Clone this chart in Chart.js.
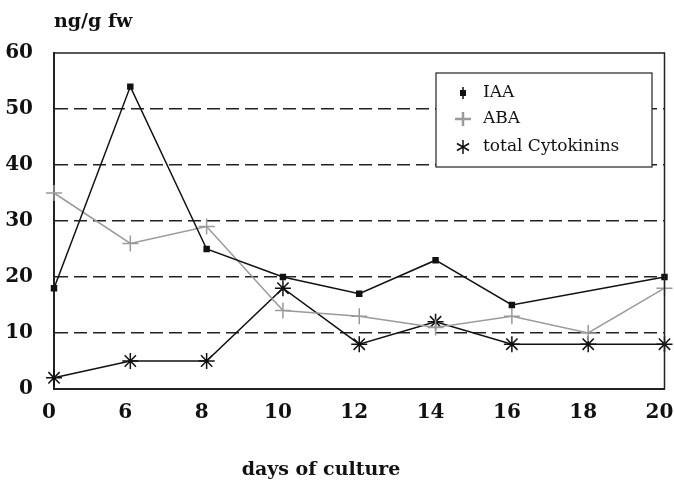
<html>
  <head>
    <script src="https://cdn.jsdelivr.net/npm/chart.js@4/dist/chart.umd.min.js"></script>
    <style>
      body {
        margin: 0;
        background-color: #ffffff;
      }
    </style>
    <title>Hormone levels</title>
  </head>
  <body>
    <canvas id="canvas" width="674" height="480"></canvas>
    <script type="text/javascript">

      // days of culture and hormone levels (ng/g fw)
      var days = ["0", "6", "8", "10", "12", "14", "16", "18", "20"];
      var iaa = [18, 54, 25, 20, 17, 23, 15, null, 20];
      var aba = [35, 26, 29, 14, 13, 11, 13, 10, 18];
      var cytokinins = [2, 5, 5, 18, 8, 12, 8, 8, 8];
      var yTicks = [0, 10, 20, 30, 40, 50, 60];

      var serif = '"DejaVu Serif", "Liberation Serif", serif';

      // frame, axis captions and the boxed legend inside the plot
      var extras = {
        id: "extras",
        afterDraw: function(chart){
          var ctx = chart.ctx;
          var a = chart.chartArea;
          ctx.save();

          ctx.strokeStyle = "#222";
          ctx.lineWidth = 1.5;
          ctx.beginPath();
          ctx.moveTo(a.left, a.top);
          ctx.lineTo(a.right, a.top);
          ctx.lineTo(a.right, a.bottom);
          ctx.stroke();

          ctx.fillStyle = "#111";
          ctx.font = "bold 19px " + serif;
          ctx.textBaseline = "middle";
          ctx.textAlign = "left";
          ctx.fillText("ng/g fw", a.left, 22);

          ctx.textAlign = "center";
          ctx.fillText("days of culture", 321, 470);

          // legend box
          var bx = a.left + 382, by = a.top + 20, bw = 216, bh = 94;
          ctx.fillStyle = "#fff";
          ctx.fillRect(bx, by, bw, bh);
          ctx.lineWidth = 1.2;
          ctx.strokeStyle = "#222";
          ctx.strokeRect(bx, by, bw, bh);

          var rows = [20, 46, 74];
          ctx.textAlign = "left";
          chart.data.datasets.forEach(function(ds, i){
            var mx = bx + 27, my = by + rows[i];
            ctx.strokeStyle = ds.borderColor;
            ctx.fillStyle = ds.borderColor;
            ctx.lineWidth = 1.5;
            ctx.beginPath();
            if(ds.pointStyle === "rect"){
              ctx.moveTo(mx, my - 6);
              ctx.lineTo(mx, my + 6);
              ctx.stroke();
              ctx.fillRect(mx - 3, my - 3, 6, 6);
            } else if(ds.pointStyle === "cross"){
              ctx.lineWidth = 2.5;
              ctx.moveTo(mx - 8, my);
              ctx.lineTo(mx + 8, my);
              ctx.moveTo(mx, my - 7);
              ctx.lineTo(mx, my + 7);
              ctx.stroke();
            } else {
              for(var k = 0; k < 3; k++){
                var ang = Math.PI / 2 + k * Math.PI / 3;
                ctx.moveTo(mx - 7 * Math.cos(ang), my - 7 * Math.sin(ang));
                ctx.lineTo(mx + 7 * Math.cos(ang), my + 7 * Math.sin(ang));
              }
              ctx.stroke();
            }
            ctx.fillStyle = "#111";
            ctx.font = "17px " + serif;
            ctx.fillText(ds.label, bx + 47, my);
          });

          ctx.restore();
        }
      };

      window.onload = function(){
        var ctx = document.getElementById("canvas");

        new Chart(ctx, {
          type: "line",
          data: {
            labels: days,
            datasets: [{
              label: "IAA",
              data: iaa,
              borderColor: "#111",
              backgroundColor: "#111",
              borderWidth: 1.5,
              pointStyle: "rect",
              pointRadius: 3.5,
              spanGaps: true
            }, {
              label: "ABA",
              data: aba,
              borderColor: "#9a9a9a",
              backgroundColor: "#9a9a9a",
              borderWidth: 1.5,
              pointStyle: "cross",
              pointRadius: 8,
              pointBorderWidth: 1.5
            }, {
              label: "total Cytokinins",
              data: cytokinins,
              borderColor: "#111",
              backgroundColor: "#111",
              borderWidth: 1.5,
              pointStyle: "star",
              pointRadius: 8,
              pointBorderWidth: 1.5
            }]
          },
          options: {
            responsive: false,
            animation: false,
            layout: {
              padding: { top: 53, right: 8, left: 0, bottom: 0 }
            },
            plugins: {
              legend: { display: false },
              tooltip: { enabled: false }
            },
            scales: {
              x: {
                offset: false,
                grid: { display: false, drawTicks: false },
                border: { color: "#222", width: 2 },
                ticks: {
                  color: "#111",
                  padding: 12,
                  labelOffset: -5,
                  font: { family: serif, size: 20, weight: "bold" }
                },
                afterFit: function(scale){
                  scale.height = 91;
                  scale.paddingLeft = 0;
                  scale.paddingRight = 0;
                }
              },
              y: {
                min: 0,
                max: 60,
                afterBuildTicks: function(scale){
                  scale.ticks = yTicks.map(function(v){ return { value: v }; });
                },
                grid: {
                  drawTicks: false,
                  lineWidth: 1.5,
                  color: function(c){
                    var v = c.tick ? c.tick.value : 0;
                    return (v === 0 || v === 60) ? "rgba(0,0,0,0)" : "#222";
                  }
                },
                border: { color: "#222", width: 2, dash: [13, 6] },
                ticks: {
                  color: "#111",
                  padding: 21,
                  font: { family: serif, size: 20, weight: "bold" }
                },
                afterFit: function(scale){
                  scale.width = 54;
                  scale.paddingTop = 0;
                  scale.paddingBottom = 0;
                }
              }
            }
          },
          plugins: [extras]
        });
      };
    </script>
  </body>
</html>
